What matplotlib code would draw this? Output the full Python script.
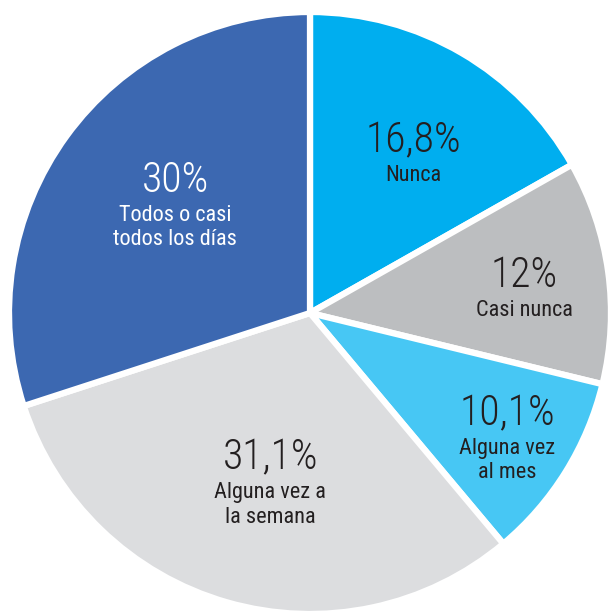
import numpy as np
import matplotlib.pyplot as plt
from matplotlib import font_manager

# data
categories = ['Nunca', 'Casi nunca', 'Alguna vez\nal mes', 'Alguna vez a\nla semana', 'Todos o casi\ntodos los días']
values = [16.8, 12.0, 10.1, 31.1, 30.0]
pct_labels = ['16,8%', '12%', '10,1%', '31,1%', '30%']

colors = ['#00AEEF', '#BCBEC0', '#47C7F4', '#DCDDDF', '#3C68B1']
text_colors = ['#231F20', '#231F20', '#231F20', '#231F20', '#FFFFFF']
# label placement: fraction of radius, angle offset from wedge middle (deg)
label_r = [0.602, 0.713, 0.773, 0.575, 0.576]
label_da = [-4.4, -4.2, -0.3, 2.8, -2.9]

installed = {f.name for f in font_manager.fontManager.ttflist}
family = 'DejaVu Sans'
for cand in ['Roboto Condensed', 'Liberation Sans Narrow', 'Open Sans Condensed', 'Noto Sans Condensed']:
    if cand in installed:
        family = cand
        break
plt.rcParams['font.family'] = [family, 'DejaVu Sans']
plt.rcParams['font.stretch'] = 'condensed'

fig = plt.figure(figsize=(6.10, 6.15), dpi=100)
ax = fig.add_axes([0, 0, 1, 1])

cx, cy, R = 310, 615 - 313, 301
wedges, _ = ax.pie(values, colors=colors, startangle=90, counterclock=False,
                   center=(cx, cy), radius=R,
                   wedgeprops=dict(edgecolor='white', linewidth=4.5))

for w, p, c, tc, r, da in zip(wedges, pct_labels, categories, text_colors, label_r, label_da):
    ang = np.deg2rad((w.theta1 + w.theta2) / 2 + da)
    x = cx + r * R * np.cos(ang)
    y = cy + r * R * np.sin(ang)
    ax.text(x, y + 3, p, ha='center', va='bottom', fontsize=30, color=tc,
            fontweight='light')
    ax.text(x, y - 1, c, ha='center', va='top', fontsize=16, color=tc,
            linespacing=1.2)

ax.set_xlim(0, 610)
ax.set_ylim(0, 615)
ax.set_aspect('equal')
ax.axis('off')

fig.savefig('out.png', dpi=100)
